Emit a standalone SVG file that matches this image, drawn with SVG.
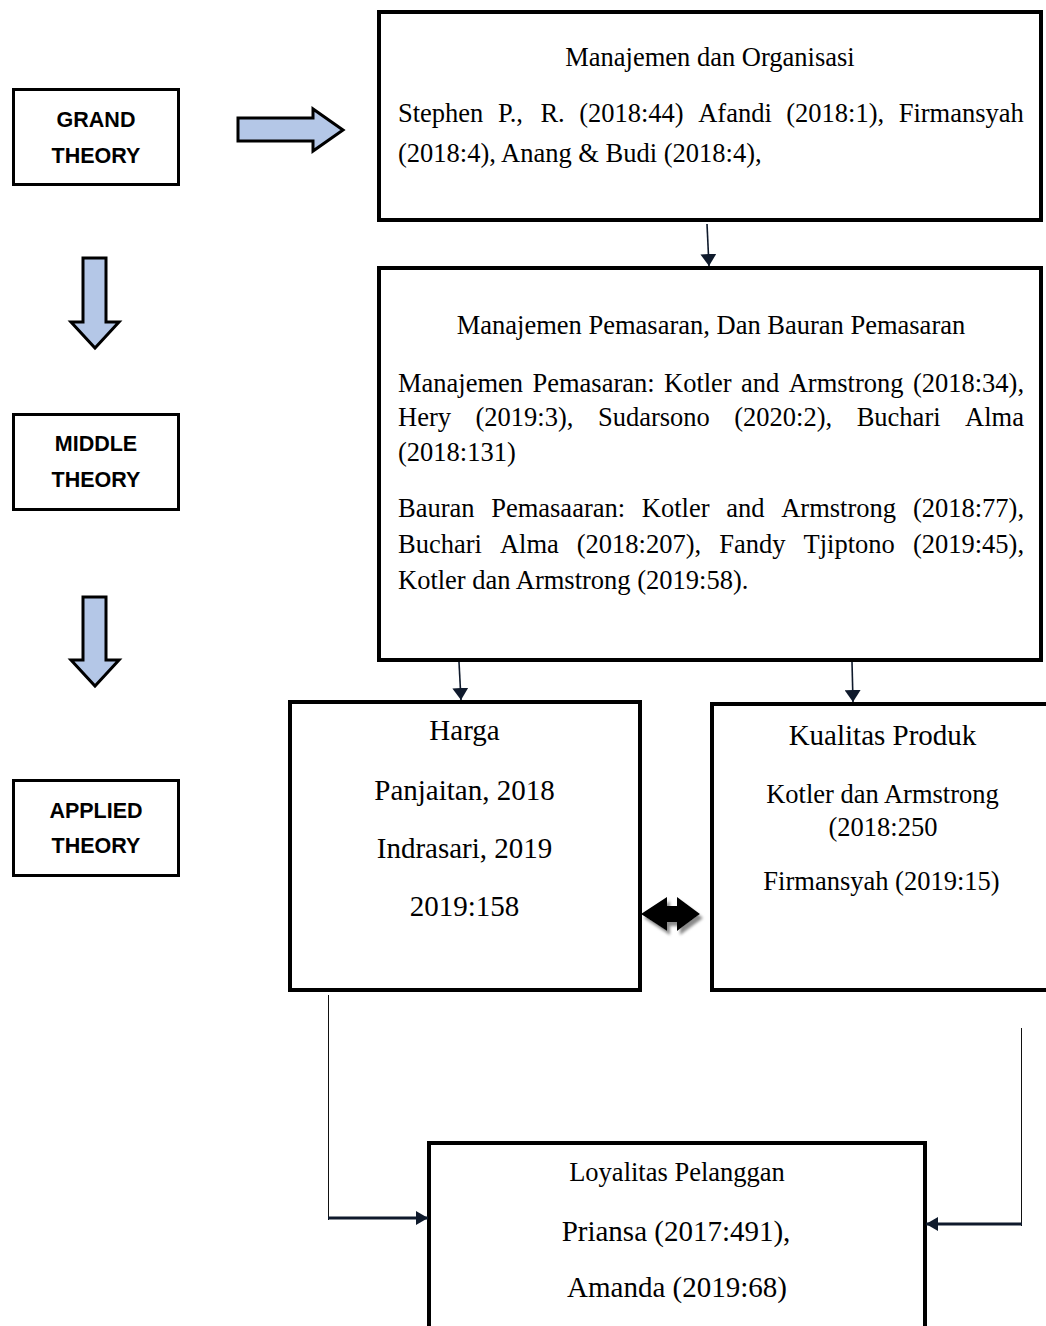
<svg xmlns="http://www.w3.org/2000/svg" width="1046" height="1326" viewBox="0 0 1046 1326">
<style>
.lbl{font-family:"Liberation Sans",Arial,sans-serif;font-weight:bold;font-size:21.5px;fill:#000;text-anchor:middle}
.t{font-family:"Liberation Serif","Times New Roman",serif;font-size:26.5px;fill:#000}
.c{text-anchor:middle}
.big{font-size:29px}
.box{fill:#fff;stroke:#000;stroke-width:4}
.sbox{fill:#fff;stroke:#000;stroke-width:3}
.blk{fill:#b4c7e7;stroke:#000;stroke-width:3;stroke-linejoin:miter}
.con{stroke:#0f1a2c;stroke-width:1.6;fill:none}
.thin{stroke:#111;stroke-width:1;fill:none}
.thick{stroke:#0f1a2c;stroke-width:3;fill:none}
</style>
<defs>
<marker id="ah" viewBox="0 0 12 16" markerWidth="12" markerHeight="16" refX="12" refY="8" orient="auto" markerUnits="userSpaceOnUse">
<path d="M0,0 L12,8 L0,16 Z" fill="#0f1a2c"/>
</marker>
<marker id="ah2" viewBox="0 0 12 14" markerWidth="12" markerHeight="14" refX="12" refY="7" orient="auto" markerUnits="userSpaceOnUse">
<path d="M0,0 L12,7 L0,14 Z" fill="#0f1a2c"/>
</marker>
<filter id="sh" x="-20%" y="-20%" width="150%" height="160%">
<feGaussianBlur in="SourceAlpha" stdDeviation="1.5"/>
<feOffset dx="3" dy="4" result="b"/>
<feFlood flood-color="#8a8a8a"/>
<feComposite in2="b" operator="in"/>
<feMerge><feMergeNode/><feMergeNode in="SourceGraphic"/></feMerge>
</filter>
</defs>
<rect width="1046" height="1326" fill="#fff"/>

<g id="grand-theory">
<rect class="sbox" x="13.5" y="89.5" width="165" height="95"/>
<text class="lbl" x="96" y="127">GRAND</text>
<text class="lbl" x="96" y="163">THEORY</text>
</g>
<g id="middle-theory">
<rect class="sbox" x="13.5" y="414.5" width="165" height="95"/>
<text class="lbl" x="96" y="451">MIDDLE</text>
<text class="lbl" x="96" y="487">THEORY</text>
</g>
<g id="applied-theory">
<rect class="sbox" x="13.5" y="780.5" width="165" height="95"/>
<text class="lbl" x="96" y="818">APPLIED</text>
<text class="lbl" x="96" y="853">THEORY</text>
</g>

<g id="block-arrows">
<polygon class="blk" points="238,118 313,118 313,109 343,130 313,151 313,141 238,141"/>
<polygon class="blk" points="83,258 106,258 106,322 119,322 95,348 71,322 83,322"/>
<polygon class="blk" points="83,597 106,597 106,660 119,660 95,686 71,660 83,660"/>
</g>

<g id="grand-box">
<rect class="box" x="379" y="12" width="662" height="208"/>
<text class="t c" x="710" y="66">Manajemen dan Organisasi</text>
<text class="t" y="122"><tspan x="398">Stephen</tspan><tspan x="497.9">P.,</tspan><tspan x="540.4">R.</tspan><tspan x="579.2">(2018:44)</tspan><tspan x="698.2">Afandi</tspan><tspan x="786.3">(2018:1),</tspan><tspan x="898.7">Firmansyah</tspan></text>
<text class="t" x="398" y="162">(2018:4), Anang &amp; Budi (2018:4),</text>
</g>

<g id="middle-box">
<rect class="box" x="379" y="268" width="662" height="392"/>
<text class="t c" x="711" y="334">Manajemen Pemasaran, Dan Bauran Pemasaran</text>
<text class="t" y="392"><tspan x="398">Manajemen</tspan><tspan x="532.5">Pemasaran:</tspan><tspan x="664">Kotler</tspan><tspan x="741.1">and</tspan><tspan x="788.7">Armstrong</tspan><tspan x="912.9">(2018:34),</tspan></text>
<text class="t" y="426"><tspan x="398">Hery</tspan><tspan x="475.5">(2019:3),</tspan><tspan x="597.9">Sudarsono</tspan><tspan x="734.3">(2020:2),</tspan><tspan x="856.7">Buchari</tspan><tspan x="965.1">Alma</tspan></text>
<text class="t" x="398" y="461">(2018:131)</text>
<text class="t" y="517"><tspan x="398">Bauran</tspan><tspan x="491.2">Pemasaaran:</tspan><tspan x="641.8">Kotler</tspan><tspan x="726.2">and</tspan><tspan x="781.2">Armstrong</tspan><tspan x="912.9">(2018:77),</tspan></text>
<text class="t" y="553"><tspan x="398">Buchari</tspan><tspan x="499.9">Alma</tspan><tspan x="576.8">(2018:207),</tspan><tspan x="719.2">Fandy</tspan><tspan x="803.5">Tjiptono</tspan><tspan x="912.9">(2019:45),</tspan></text>
<text class="t" x="398" y="589">Kotler dan Armstrong (2019:58).</text>
</g>

<g id="harga">
<rect class="box" x="290" y="702" width="350" height="288"/>
<text class="t c big" x="464.5" y="740">Harga</text>
<text class="t c big" x="464.5" y="800">Panjaitan, 2018</text>
<text class="t c big" x="464.5" y="858">Indrasari, 2019</text>
<text class="t c big" x="464.5" y="916">2019:158</text>
</g>

<g id="kualitas-produk">
<rect class="box" x="712" y="704" width="340" height="286"/>
<text class="t c big" x="882.5" y="745">Kualitas Produk</text>
<text class="t c" x="882.5" y="803">Kotler dan Armstrong</text>
<text class="t c" x="883" y="836">(2018:250</text>
<text class="t c" x="881.5" y="890">Firmansyah (2019:15)</text>
</g>

<g id="loyalitas-pelanggan">
<rect class="box" x="429" y="1143" width="496" height="190"/>
<text class="t c" x="677" y="1181">Loyalitas Pelanggan</text>
<text class="t c big" x="676" y="1241">Priansa (2017:491),</text>
<text class="t c big" x="677" y="1297">Amanda (2019:68)</text>
</g>

<g id="double-arrow">
<polygon filter="url(#sh)" fill="#000" points="641,914 667,897 667,906 677,906 677,897 700,914 677,931 677,922 667,922 667,931"/>
</g>

<g id="connectors">
<line class="con" x1="707" y1="224" x2="709" y2="266" marker-end="url(#ah)"/>
<line class="con" x1="459" y1="662" x2="461" y2="700" marker-end="url(#ah)"/>
<line class="con" x1="852" y1="662" x2="853" y2="702" marker-end="url(#ah)"/>
<polyline class="thin" points="328.5,995 328.5,1220"/>
<line class="thick" x1="328" y1="1218" x2="428" y2="1218" marker-end="url(#ah2)"/>
<polyline class="thin" points="1021.5,1028 1021.5,1226"/>
<line class="thick" x1="1022" y1="1224" x2="926" y2="1224" marker-end="url(#ah2)"/>
</g>
</svg>
